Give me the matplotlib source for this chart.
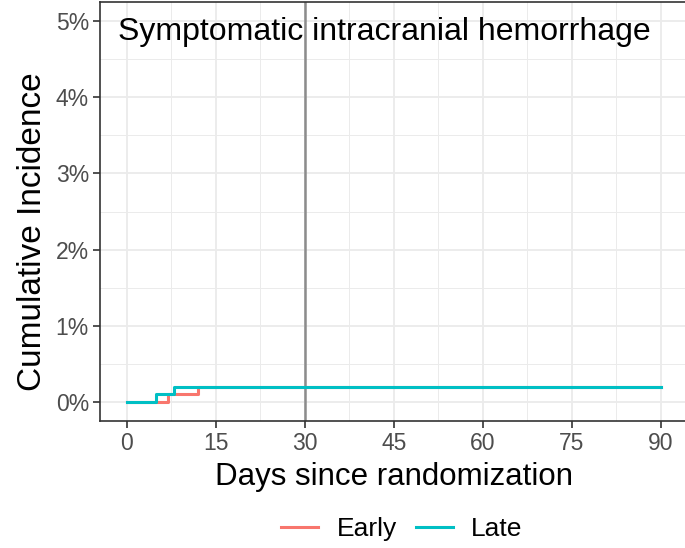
import matplotlib
matplotlib.use("Agg")
import matplotlib.pyplot as plt
from matplotlib.ticker import MultipleLocator, FuncFormatter

plt.rcParams["font.family"] = ["Liberation Sans", "DejaVu Sans"]

# step curves (cumulative incidence, %)
early_days = [0, 7, 12, 90]
early_pct = [0.0, 0.1, 0.2, 0.2]
late_days = [0, 5, 8, 90]
late_pct = [0.0, 0.1, 0.2, 0.2]

groups = ["Early", "Late"]
colors = ["#F8766D", "#00BFC4"]
title = "Symptomatic intracranial hemorrhage"
cutoff_day = 30

fig = plt.figure(figsize=(6.85, 5.48), dpi=100)
ax = fig.add_axes([100 / 685, 1 - 421 / 548, 587.4 / 685, 419 / 548])

ax.set_xlim(-4.5, 94.5)
ax.set_ylim(-0.25, 5.25)
ax.xaxis.set_major_locator(MultipleLocator(15))
ax.xaxis.set_minor_locator(MultipleLocator(7.5))
ax.yaxis.set_major_locator(MultipleLocator(1))
ax.yaxis.set_minor_locator(MultipleLocator(0.5))
ax.yaxis.set_major_formatter(FuncFormatter(lambda v, p: f"{v:.0f}%"))

ax.grid(which="major", color="#EBEBEB", lw=1.3, zorder=0)
ax.grid(which="minor", color="#EBEBEB", lw=0.7, zorder=0)
ax.tick_params(which="minor", length=0)
ax.tick_params(which="major", length=5, width=1.2, color="#333333", pad=3,
               labelsize=16.5, labelcolor="#4D4D4D")
for s in ax.spines.values():
    s.set_color("#333333")
    s.set_linewidth(1.2)

ax.axvline(cutoff_day, color="#8C8C8C", lw=1.8, zorder=2)

ax.plot(early_days, early_pct, drawstyle="steps-post", color=colors[0], lw=2.2, label=groups[0], zorder=3)
ax.plot(late_days, late_pct, drawstyle="steps-post", color=colors[1], lw=2.2, label=groups[1], zorder=4)

ax.text(-1.5, 4.86, title, fontsize=23, va="center", ha="left", zorder=5)

ax.set_xlabel("Days since randomization", fontsize=22.5, labelpad=5)
ax.set_ylabel("Cumulative Incidence", fontsize=24)
ax.yaxis.set_label_coords(-0.088, 0.451)

fig.legend(loc="center", bbox_to_anchor=(402 / 685, 1 - 529 / 548), ncol=2, frameon=False,
           fontsize=19, handlelength=1.4, handletextpad=0.7, columnspacing=0.72)

fig.savefig("out.png", dpi=100)
